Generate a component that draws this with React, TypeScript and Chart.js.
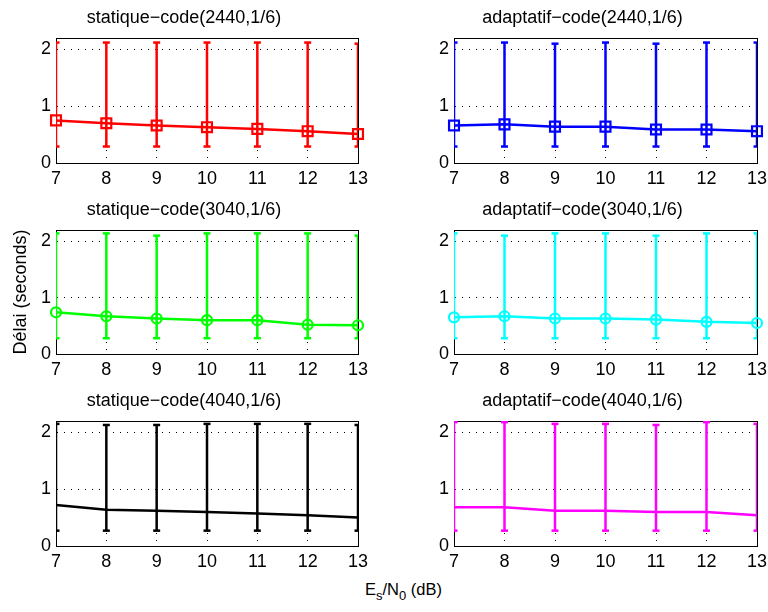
import React, { useEffect, useRef } from 'react';
import { Chart, registerables } from 'chart.js';

Chart.register(...registerables);

// ---- data ----
const snrValues = [7, 8, 9, 10, 11, 12, 13];
const xTickValues = [7, 8, 9, 10, 11, 12, 13];
const yTickValues = [0, 1, 2];

const panelTitles = [
  'statique\u2212code(2440,1/6)',
  'adaptatif\u2212code(2440,1/6)',
  'statique\u2212code(3040,1/6)',
  'adaptatif\u2212code(3040,1/6)',
  'statique\u2212code(4040,1/6)',
  'adaptatif\u2212code(4040,1/6)',
];

const statique2440Mean = [0.75, 0.70, 0.66, 0.63, 0.60, 0.56, 0.51];
const statique2440Upper = [2.12, 2.12, 2.12, 2.12, 2.12, 2.12, 2.10];
const statique2440Lower = [0.29, 0.29, 0.29, 0.29, 0.29, 0.29, 0.29];

const adaptatif2440Mean = [0.66, 0.68, 0.64, 0.64, 0.59, 0.59, 0.56];
const adaptatif2440Upper = [2.12, 2.12, 2.10, 2.12, 2.10, 2.12, 2.12];
const adaptatif2440Lower = [0.29, 0.29, 0.29, 0.29, 0.29, 0.29, 0.29];

const statique3040Mean = [0.74, 0.67, 0.63, 0.60, 0.60, 0.52, 0.51];
const statique3040Upper = [2.14, 2.14, 2.10, 2.14, 2.14, 2.14, 2.10];
const statique3040Lower = [0.28, 0.28, 0.28, 0.28, 0.28, 0.28, 0.28];

const adaptatif3040Mean = [0.65, 0.67, 0.63, 0.63, 0.61, 0.57, 0.55];
const adaptatif3040Upper = [2.14, 2.10, 2.14, 2.14, 2.10, 2.14, 2.14];
const adaptatif3040Lower = [0.28, 0.28, 0.28, 0.28, 0.28, 0.28, 0.28];

const statique4040Mean = [0.72, 0.64, 0.62, 0.60, 0.57, 0.54, 0.50];
const statique4040Upper = [2.15, 2.13, 2.13, 2.15, 2.15, 2.15, 2.13];
const statique4040Lower = [0.27, 0.27, 0.27, 0.27, 0.27, 0.27, 0.27];

const adaptatif4040Mean = [0.68, 0.68, 0.62, 0.62, 0.60, 0.60, 0.54];
const adaptatif4040Upper = [2.18, 2.18, 2.15, 2.15, 2.13, 2.18, 2.15];
const adaptatif4040Lower = [0.27, 0.27, 0.27, 0.27, 0.27, 0.27, 0.27];

const yAxisTitle = 'Délai (seconds)';

// ---- layout / style ----
const FONT = '"Liberation Sans", Arial, Helvetica, sans-serif';
const COL_LEFT = [56, 454];
const COL_WIDTH = [302, 303];
const ROW_TOP = [38, 230, 421];
const ROW_HEIGHT = [125, 124, 125];
const SIDE = 46;
const TITLE_H = 38;
const XAXIS_H = 30;

const panels = [
  { title: panelTitles[0], mean: statique2440Mean, upper: statique2440Upper, lower: statique2440Lower, color: '#ff0000', marker: 'rect', radius: 7 },
  { title: panelTitles[1], mean: adaptatif2440Mean, upper: adaptatif2440Upper, lower: adaptatif2440Lower, color: '#0000ff', marker: 'rect', radius: 7 },
  { title: panelTitles[2], mean: statique3040Mean, upper: statique3040Upper, lower: statique3040Lower, color: '#00ff00', marker: 'circle', radius: 5 },
  { title: panelTitles[3], mean: adaptatif3040Mean, upper: adaptatif3040Upper, lower: adaptatif3040Lower, color: '#00ffff', marker: 'circle', radius: 5 },
  { title: panelTitles[4], mean: statique4040Mean, upper: statique4040Upper, lower: statique4040Lower, color: '#000000', marker: 'circle', radius: 0 },
  { title: panelTitles[5], mean: adaptatif4040Mean, upper: adaptatif4040Upper, lower: adaptatif4040Lower, color: '#ff00ff', marker: 'circle', radius: 0 },
];

const boxPlugin = {
  id: 'boxFrame',
  beforeDatasetsDraw(chart: any) {
    const { ctx, chartArea: a } = chart;
    ctx.save();
    ctx.strokeStyle = '#000';
    ctx.lineWidth = 1;
    ctx.setLineDash([]);
    ctx.beginPath();
    ctx.moveTo(Math.round(a.left), Math.round(a.top) + 0.5);
    ctx.lineTo(Math.round(a.right) + 1, Math.round(a.top) + 0.5);
    ctx.moveTo(Math.round(a.right) + 0.5, Math.round(a.top));
    ctx.lineTo(Math.round(a.right) + 0.5, Math.round(a.bottom) + 1);
    ctx.stroke();
    ctx.restore();
  },
};

function Panel({ index }: { index: number }) {
  const ref = useRef<HTMLCanvasElement | null>(null);
  const p = panels[index];
  const row = Math.floor(index / 2);
  const col = index % 2;
  const width = SIDE + COL_WIDTH[col] + SIDE;
  const height = TITLE_H + ROW_HEIGHT[row] + XAXIS_H;

  useEffect(() => {
    if (!ref.current) return;
    const errData: any[] = [];
    snrValues.forEach((x, i) => {
      errData.push({ x, y: p.lower[i] }, { x, y: p.upper[i] }, { x, y: null });
    });
    const meanData = snrValues.map((x, i) => ({ x, y: p.mean[i] }));
    const showYTitle = index === 2;
    const chart = new Chart(ref.current, {
      type: 'line',
      data: {
        datasets: [
          {
            data: meanData,
            borderColor: p.color,
            borderWidth: 2.5,
            pointStyle: p.marker as any,
            pointRadius: p.radius,
            pointBorderWidth: 2.2,
            pointBorderColor: p.color,
            pointBackgroundColor: 'rgba(0,0,0,0)',
            tension: 0,
            clip: false as any,
          },
          {
            data: errData,
            borderColor: p.color,
            borderWidth: 2.5,
            pointStyle: 'line',
            pointRadius: 3.5,
            pointBorderWidth: 2.5,
            pointBorderColor: p.color,
            spanGaps: false,
            tension: 0,
          },
        ],
      },
      options: {
        animation: false,
        responsive: false,
        events: [],
        layout: { padding: { left: 0, right: SIDE, top: 0, bottom: 0 } },
        plugins: {
          legend: { display: false },
          tooltip: { enabled: false },
          title: {
            display: true,
            text: p.title,
            color: '#000',
            font: { family: FONT, size: 18, weight: 'normal', lineHeight: '20px' } as any,
            padding: { top: 8, bottom: 10 },
          },
        },
        scales: {
          x: {
            type: 'linear',
            min: 7,
            max: 13,
            afterBuildTicks: (s: any) => {
              s.ticks = xTickValues.map((v) => ({ value: v }));
            },
            afterFit: (s: any) => {
              s.height = XAXIS_H;
              s.paddingLeft = 0;
              s.paddingRight = 0;
            },
            ticks: {
              color: '#000',
              font: { family: FONT, size: 18 },
              padding: 5,
              maxRotation: 0,
              autoSkip: false,
            },
            grid: { color: '#000', lineWidth: 1, drawTicks: false },
            border: { color: '#000', width: 1, dash: [1, 6] },
          },
          y: {
            type: 'linear',
            min: 0,
            max: 2.2,
            afterBuildTicks: (s: any) => {
              s.ticks = yTickValues.map((v) => ({ value: v }));
            },
            afterFit: (s: any) => {
              s.width = SIDE;
              s.paddingTop = 0;
              s.paddingBottom = 0;
            },
            ticks: {
              color: '#000',
              font: { family: FONT, size: 18 },
              padding: 5,
              autoSkip: false,
            },
            title: {
              display: showYTitle,
              text: yAxisTitle,
              color: '#000',
              font: { family: FONT, size: 18 },
              padding: 0,
            },
            grid: { color: '#000', lineWidth: 1, drawTicks: false },
            border: { color: '#000', width: 1, dash: [1, 6] },
          },
        },
      },
      plugins: [boxPlugin],
    } as any);
    return () => chart.destroy();
  }, [index]);

  return (
    <canvas
      ref={ref}
      width={width}
      height={height}
      style={{
        position: 'absolute',
        left: COL_LEFT[col] - SIDE,
        top: ROW_TOP[row] - TITLE_H,
        width,
        height,
      }}
    />
  );
}

export default function App() {
  return (
    <div
      style={{
        position: 'absolute',
        left: 0,
        top: 0,
        width: 768,
        height: 612,
        background: '#fff',
        overflow: 'hidden',
        fontFamily: FONT,
      }}
    >
      {panels.map((_, i) => (
        <Panel key={i} index={i} />
      ))}
      <div
        style={{
          position: 'absolute',
          left: 365,
          top: 581,
          fontSize: 16.5,
          lineHeight: '16px',
          whiteSpace: 'nowrap',
          color: '#000',
        }}
      >
        E<span style={{ fontSize: 13, position: 'relative', top: 5 }}>s</span>/N
        <span style={{ fontSize: 13, position: 'relative', top: 5 }}>0</span> (dB)
      </div>
    </div>
  );
}
